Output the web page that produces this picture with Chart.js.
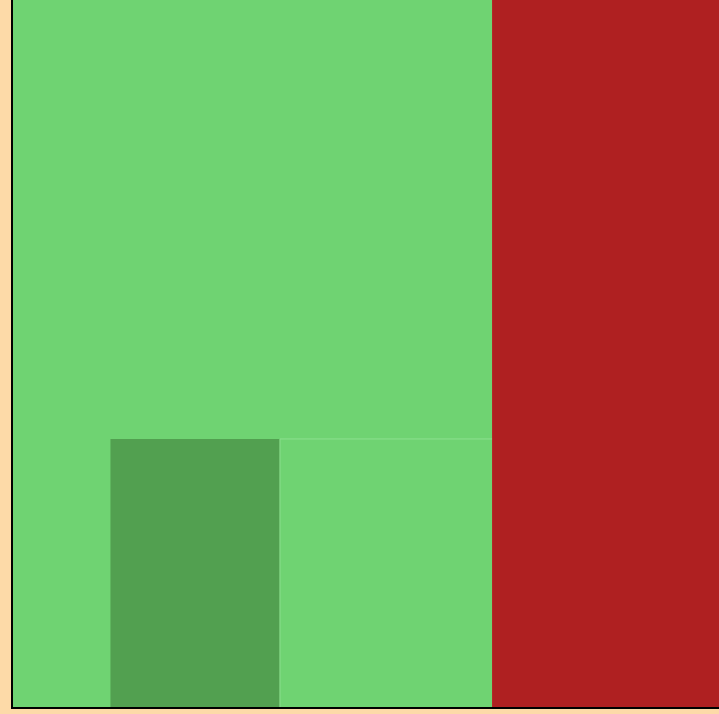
<!DOCTYPE html>
<html>
<head>
<meta charset="utf-8">
<script src="https://cdn.jsdelivr.net/npm/chart.js@4/dist/chart.umd.min.js"></script>
<style>
  body { margin: 0; background: #FDDAA8; }
  #box { width: 719px; height: 714px; }
</style>
</head>
<body>
<div id="box"><canvas id="chart" width="719" height="714"></canvas></div>
<script>
// blocks, left to right / back to front
let names = ["Group A", "Group B", "Group C", "Group D"],
    xStart = [0, 67.9, 13.9, 37.9],
    xEnd = [67.9, 100, 37.9, 67.9],
    heights = [100, 100, 38, 38],
    fills = ["#6FD372", "#AF2021", "#52A050", "#6FD372"],
    edges = ["#6FD372", "#AF2021", "#52A050", "#8EE08F"],
    edgeWidth = [0, 0, 0, 1]

// left edge + top edge only, the fill closes down to y = 0
let datasets = names.map((n, i) => ({
    label: n,
    data: [
        {x: xStart[i], y: 0},
        {x: xStart[i], y: heights[i]},
        {x: xEnd[i], y: heights[i]}
    ],
    showLine: true,
    fill: "origin",
    backgroundColor: fills[i],
    borderColor: edges[i],
    borderWidth: edgeWidth[i],
    pointRadius: 0,
    tension: 0,
    order: names.length - i
}))

let noAxis = (border) => ({
    type: "linear",
    min: 0,
    max: 100,
    grid: {display: false, drawTicks: false},
    ticks: {display: false},
    border: border,
    afterFit: (s) => { if (s.isHorizontal()) s.height = 0; else s.width = 0 }
})

new Chart(document.getElementById("chart"), {
    type: "scatter",
    data: {datasets: datasets},
    options: {
        responsive: false,
        animation: false,
        layout: {padding: {left: 12, right: 0, top: 0, bottom: 6}},
        plugins: {legend: {display: false}, tooltip: {enabled: false}},
        scales: {
            x: noAxis({display: true, color: "#000", width: 2, z: 1}),
            y: noAxis({display: true, color: "#000", width: 2, z: 1})
        }
    }
})
</script>
</body>
</html>
